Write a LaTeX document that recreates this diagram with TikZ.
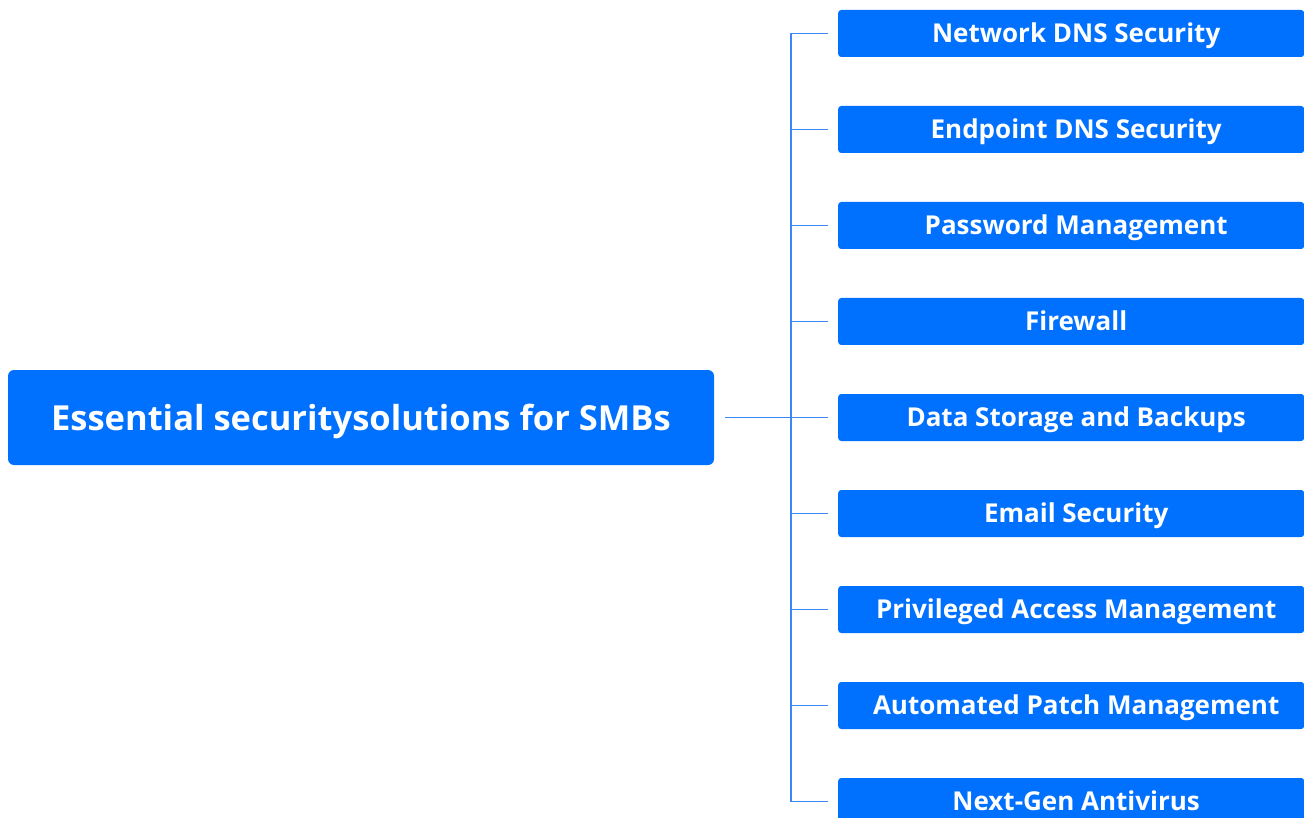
\documentclass[tikz,border=0pt]{standalone}
\usepackage{fontspec}
\setmainfont{Open Sans}
\usetikzlibrary{positioning,calc}
\definecolor{boxblue}{HTML}{0070FE}
\definecolor{lineblue}{HTML}{3A88F8}
\tikzset{
  rootbox/.style={rounded corners=6pt,fill=boxblue,draw=none,minimum width=706pt,minimum height=95pt,text height=25pt,text depth=0pt,font=\bfseries\fontsize{34.5}{40}\selectfont,text=white},
  leafbox/.style={rounded corners=3pt,fill=boxblue,draw=none,minimum width=466pt,minimum height=47pt,text height=18pt,text depth=0pt,anchor=west,font=\bfseries\fontsize{26}{30}\selectfont,text=white},
  link/.style={draw=lineblue,line width=1.1pt}
}
\begin{document}
\begin{tikzpicture}[x=1pt,y=-1pt]
\path[use as bounding box,fill=white] (0,0) rectangle (1304,818);
\node[rootbox] (root) at (361,417.5) {Essential securitysolutions for SMBs};
\foreach \i/\y/\t in {1/33.5/Network DNS Security,2/129.5/Endpoint DNS Security,3/225.5/Password Management,4/321.5/Firewall,5/417.5/Data Storage and Backups,6/513.5/Email Security,7/609.5/Privileged Access Management,8/705.5/Automated Patch Management,9/801.5/Next-Gen Antivirus}{\node[leafbox] (l\i) at (838,\y) {\hspace{10pt}\t};}
\coordinate (trunk) at (791,417.5);
\draw[link,shorten <=11pt] (root.east) -- (root.east -| trunk);
\draw[link] (l1.west -| trunk) -- (l9.west -| trunk);
\foreach \i in {1,...,9}{\draw[link,shorten >=10pt] (l\i.west -| trunk) -- (l\i.west);}
\end{tikzpicture}
\end{document}
